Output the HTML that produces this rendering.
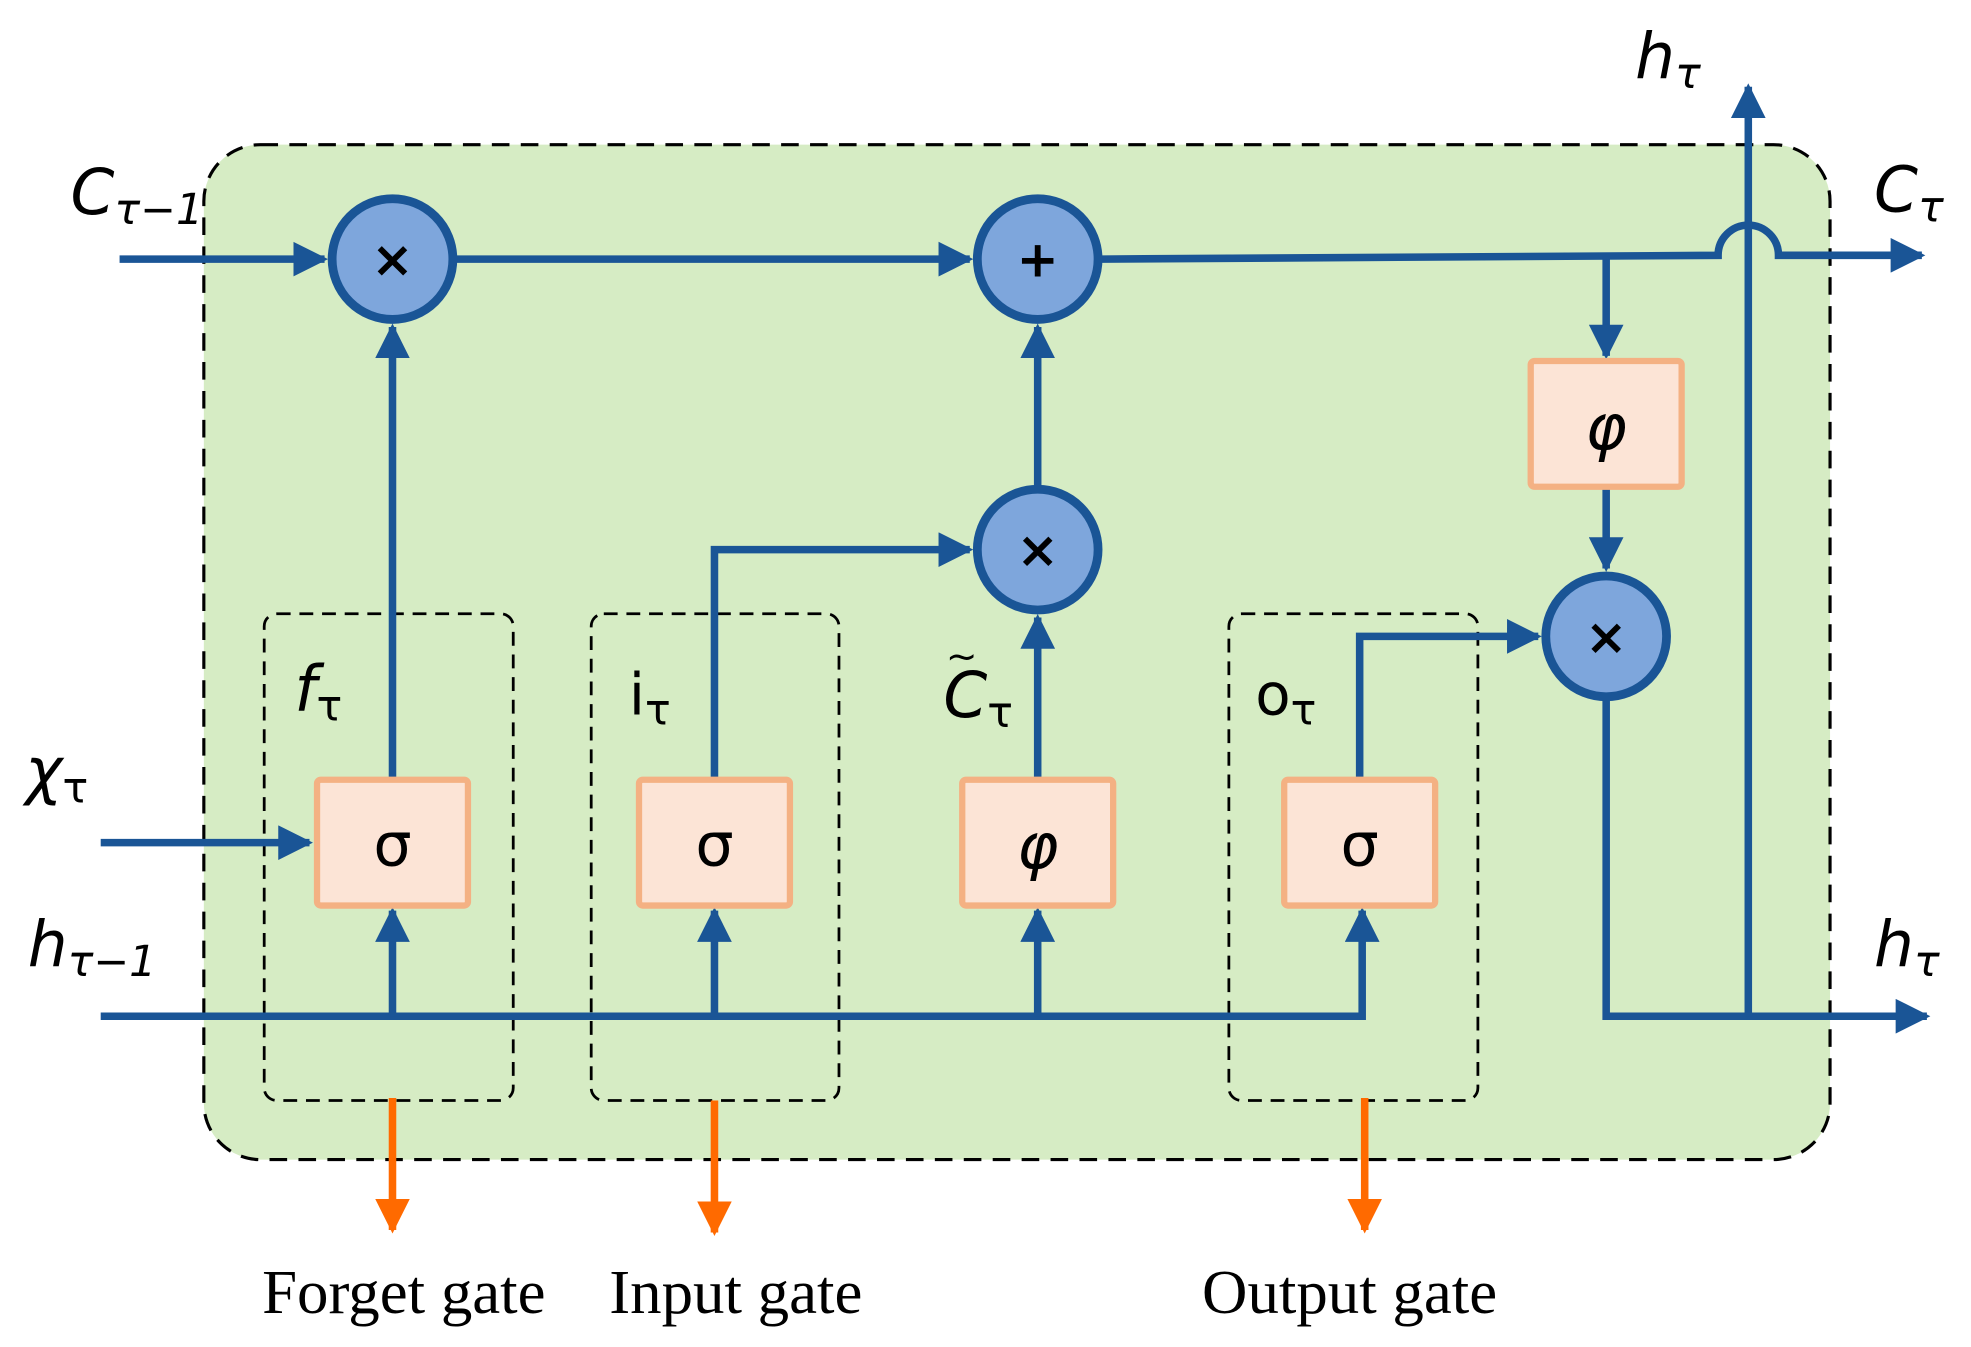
<!DOCTYPE html>
<html><head><meta charset="utf-8"><style>html,body{margin:0;padding:0;background:#fff}svg{display:block}</style></head>
<body>
<svg width="1971" height="1347" viewBox="0 0 1567 1071" xmlns="http://www.w3.org/2000/svg">
<defs>
<marker id="a" viewBox="0 0 10 10" refX="9" refY="5" markerWidth="4.6" markerHeight="4.6" orient="auto" markerUnits="strokeWidth"><path d="M0,0 L10,5 L0,10 z" fill="#1a5596"/></marker>
<marker id="o" viewBox="0 0 10 10" refX="9" refY="5" markerWidth="4.6" markerHeight="4.6" orient="auto" markerUnits="strokeWidth"><path d="M0,0 L10,5 L0,10 z" fill="#ff6a00"/></marker>
</defs>
<rect x="162" y="115" width="1293" height="807" rx="45" fill="#d6ecc4" stroke="#000" stroke-width="2.5" stroke-dasharray="14,9"/>
<g fill="none" stroke="#000" stroke-width="2.2" stroke-dasharray="11,7">
<rect x="210" y="488" width="198" height="387" rx="10"/>
<rect x="470" y="488" width="197" height="387" rx="10"/>
<rect x="977" y="488" width="198" height="387" rx="10"/>
</g>
<g fill="none" stroke="#1a5596" stroke-width="6">
<line x1="95" y1="206" x2="258" y2="206" marker-end="url(#a)"/>
<line x1="362" y1="206" x2="771" y2="206" marker-end="url(#a)"/>
<path d="M875,206 L1366,203 A12,12 0 0 1 1414,203 L1528,203" marker-end="url(#a)"/>
<line x1="1277" y1="204" x2="1277" y2="283" marker-end="url(#a)"/>
<line x1="1277" y1="387" x2="1277" y2="452" marker-end="url(#a)"/>
<polyline points="80,808 1083,808 1083,724" marker-end="url(#a)"/>
<line x1="312" y1="808" x2="312" y2="724" marker-end="url(#a)"/>
<line x1="568" y1="808" x2="568" y2="724" marker-end="url(#a)"/>
<line x1="825" y1="808" x2="825" y2="724" marker-end="url(#a)"/>
<line x1="80" y1="670" x2="246" y2="670" marker-end="url(#a)"/>
<line x1="312" y1="620" x2="312" y2="260" marker-end="url(#a)"/>
<polyline points="568,620 568,437 771,437" marker-end="url(#a)"/>
<line x1="825" y1="620" x2="825" y2="491" marker-end="url(#a)"/>
<line x1="825" y1="387" x2="825" y2="260" marker-end="url(#a)"/>
<polyline points="1081,620 1081,506 1223,506" marker-end="url(#a)"/>
<polyline points="1277,556 1277,808 1532,808" marker-end="url(#a)"/>
<line x1="1390" y1="808" x2="1390" y2="69" marker-end="url(#a)"/>
</g>
<g fill="none" stroke="#ff6a00" stroke-width="6">
<line x1="312" y1="873" x2="312" y2="978" marker-end="url(#o)"/>
<line x1="568" y1="875" x2="568" y2="980" marker-end="url(#o)"/>
<line x1="1085" y1="873" x2="1085" y2="978" marker-end="url(#o)"/>
</g>
<g fill="#7ea6dc" stroke="#1a5596" stroke-width="7">
<circle cx="312" cy="206" r="48"/><circle cx="825" cy="206" r="48"/>
<circle cx="825" cy="437" r="48"/><circle cx="1277" cy="506" r="48"/>
</g>
<g fill="#fce4d6" stroke="#f4b183" stroke-width="5">
<rect x="252" y="620" width="120" height="100" rx="3"/>
<rect x="508" y="620" width="120" height="100" rx="3"/>
<rect x="765" y="620" width="120" height="100" rx="3"/>
<rect x="1021" y="620" width="120" height="100" rx="3"/>
<rect x="1217" y="287" width="120" height="100" rx="3"/>
</g>
<g font-family="'DejaVu Sans','Liberation Sans',sans-serif" font-size="40" font-weight="bold" text-anchor="middle" fill="#000">
<text x="312" y="220">×</text><text x="825" y="220">+</text><text x="825" y="451">×</text><text x="1277" y="520">×</text>
</g>
<g font-family="'DejaVu Sans','Liberation Sans',sans-serif" font-size="48" text-anchor="middle" fill="#000">
<text x="312" y="688">σ</text><text x="568" y="688">σ</text><text x="1081" y="688">σ</text>
<text x="825" y="690" font-size="50" font-style="italic">φ</text><text x="1277" y="357" font-size="50" font-style="italic">φ</text>
</g>
<g font-family="'DejaVu Sans','Liberation Sans',sans-serif" font-style="italic" fill="#000" font-size="50">
<text x="56" y="170">C<tspan font-size="34" dy="8">τ−1</tspan></text>
<text x="1300" y="62">h<tspan font-size="34" dy="8">τ</tspan></text>
<text x="1490" y="168">C<tspan font-size="34" dy="8">τ</tspan></text>
<text x="22" y="768">h<tspan font-size="34" dy="8">τ−1</tspan></text>
<text x="1490" y="768">h<tspan font-size="34" dy="8">τ</tspan></text>
<text x="20" y="630">χ<tspan font-size="34" dy="8" font-style="normal">τ</tspan></text>
<text x="234" y="565">f<tspan font-size="34" dy="8" font-style="normal">τ</tspan></text>
<text x="750" y="570">C<tspan font-size="34" dy="8" font-style="normal">τ</tspan></text>
<text x="752" y="532" font-size="30" font-style="normal">~</text>
</g>
<g font-family="'DejaVu Sans','Liberation Sans',sans-serif" fill="#000" font-size="46">
<text x="500" y="568">i<tspan font-size="34" dy="8">τ</tspan></text>
<text x="998" y="568">o<tspan font-size="34" dy="8">τ</tspan></text>
</g>
<g font-family="'Liberation Serif',serif" font-size="50" fill="#000" text-anchor="middle">
<text x="321" y="1044">Forget gate</text>
<text x="585" y="1044">Input gate</text>
<text x="1073" y="1044">Output gate</text>
</g>
</svg>
</body></html>
